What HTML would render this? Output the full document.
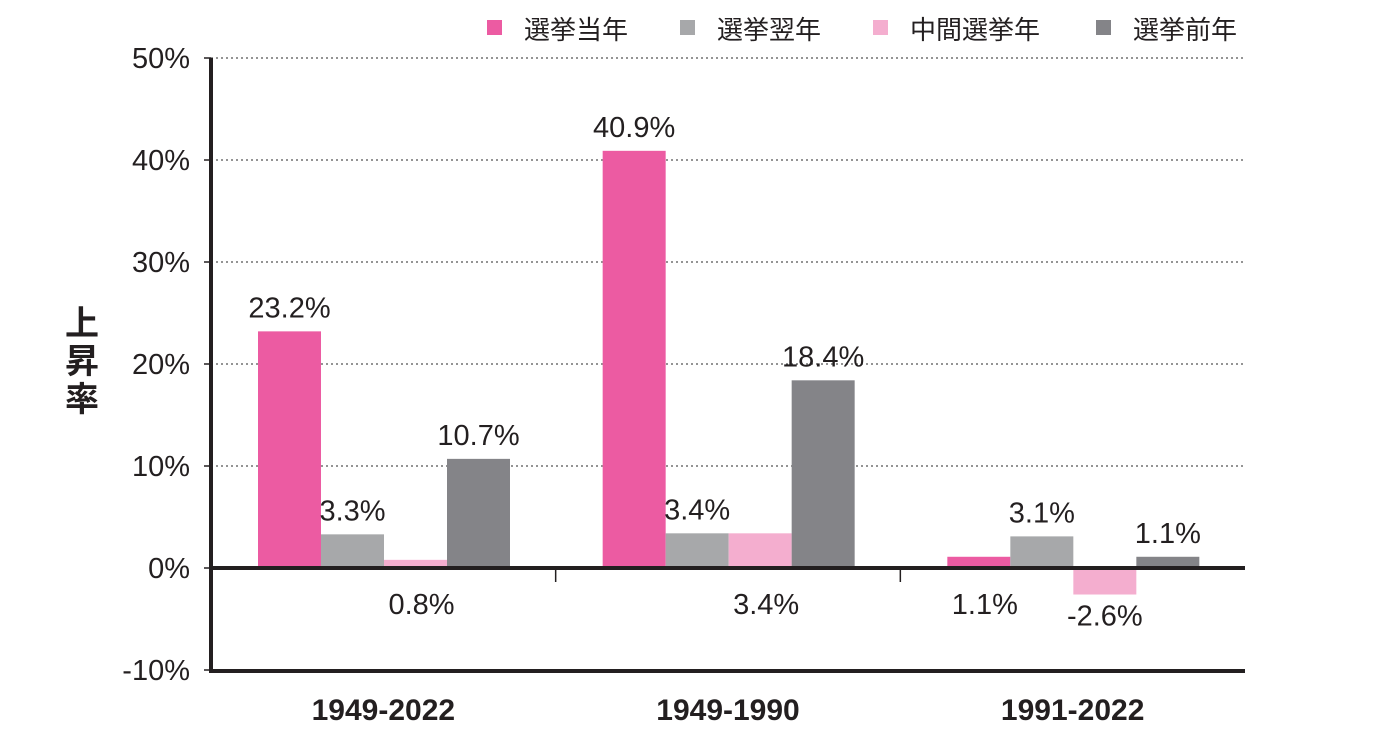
<!DOCTYPE html>
<html><head><meta charset="utf-8">
<style>
html,body{margin:0;padding:0;background:#fff;}
svg{display:block;font-family:"Liberation Sans","Noto Sans CJK JP",sans-serif;}
</style></head>
<body>
<svg id="chart" width="1383" height="745" viewBox="0 0 1383 745">
<g id="grid"></g><g id="bars"></g><g id="axes"></g><g id="labels"></g><g id="legend"></g>
<text x="82" y="365" font-size="34" font-weight="bold" fill="#231f20" text-anchor="middle"><tspan x="82" dy="-30">上</tspan><tspan x="82" dy="38">昇</tspan><tspan x="82" dy="38">率</tspan></text>
</svg>
<script>
const categories = ["1949-2022","1949-1990","1991-2022"];
const seriesNames = ["選挙当年","選挙翌年","中間選挙年","選挙前年"];
const s1 = [23.2, 40.9, 1.1];
const s2 = [3.3, 3.4, 3.1];
const s3 = [0.8, 3.4, -2.6];
const s4 = [10.7, 18.4, 1.1];
const labelBelow = [[false,false,true,false],[false,false,true,false],[true,false,true,false]];
const yTicks = [-10,0,10,20,30,40,50];
const yTickLabels = ["-10%","0%","10%","20%","30%","40%","50%"];
const colors = ["#ec5ba2","#a7a8aa","#f4aecf","#848488"];
const series=[s1,s2,s3,s4];
const NS="http://www.w3.org/2000/svg";
const x0=211,x1=1245,y0=58,yZero=568;
function y(v){return yZero-(v/10)*102;}
const gw=(x1-x0)/categories.length;
const bw=63,off=47;
function mk(t,a,p){const e=document.createElementNS(NS,t);for(const k in a)e.setAttribute(k,a[k]);p.appendChild(e);return e;}
const grid=document.getElementById('grid'),bars=document.getElementById('bars'),axes=document.getElementById('axes'),labels=document.getElementById('labels'),legend=document.getElementById('legend');
yTicks.forEach((t,i)=>{
  if(t>0){const l=mk('line',{x1:x0,x2:x1,y1:y(t),y2:y(t),stroke:'#555','stroke-width':1.2,'stroke-dasharray':'2,3'},grid);
  
  }
  const tk=mk('line',{x1:204,x2:211,y1:y(t),y2:y(t),stroke:'#231f20','stroke-width':1.5},axes);
  
  
  const tx=mk('text',{x:190,y:y(t)+10,'font-size':29,fill:'#231f20','text-anchor':'end'},axes);
  tx.textContent=yTickLabels[i];
  
  
});
categories.forEach((c,ci)=>{
  const gx=x0+gw*ci;
  series.forEach((s,si)=>{
    const v=s[ci];const bx=gx+off+si*bw;
    const r=mk('rect',{x:bx,y:Math.min(y(v),yZero),width:bw,height:Math.abs(y(v)-yZero),fill:colors[si]},bars);
    
    
    const below=labelBelow[ci][si];
    const ly=below?(v<0?y(v)+31:614):y(v)-14;
    const t=mk('text',{x:bx+bw/2+(below&&v>=0?6:0),y:ly,'font-size':29,fill:'#231f20','text-anchor':'middle'},labels);
    t.textContent=v.toFixed(1)+'%';
    
    
  });
  const cl=mk('text',{x:gx+gw/2,y:720,'font-size':30,'font-weight':'bold',fill:'#231f20','text-anchor':'middle'},labels);
  cl.textContent=c;
  
  
  if(ci>0){const sp=mk('line',{x1:gx,x2:gx,y1:yZero,y2:yZero+14,stroke:'#231f20','stroke-width':1.5},axes);
  
  }
});
const ya=mk('line',{x1:x0,x2:x0,y1:y0,y2:673,stroke:'#231f20','stroke-width':4},axes);


const xa=mk('line',{x1:x0-2,x2:x1,y1:671,y2:671,stroke:'#231f20','stroke-width':4},axes);


const zl=mk('line',{x1:x0,x2:x1,y1:yZero,y2:yZero,stroke:'#231f20','stroke-width':4},axes);


const lx=[487,680,873,1096];
seriesNames.forEach((n,i)=>{
  const g=mk('g',{},legend);
  
  
  mk('rect',{x:lx[i],y:20,width:15,height:15,fill:colors[i]},g);
  const t=mk('text',{x:lx[i]+37,y:39,'font-size':26,fill:'#231f20'},g);
  t.textContent=n;
});
</script>
</body></html>
